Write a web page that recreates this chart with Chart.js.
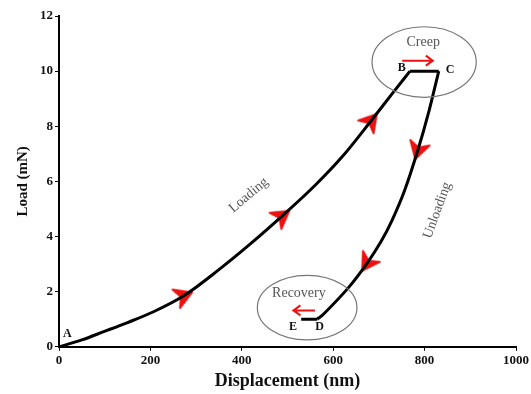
<!DOCTYPE html>
<html lang="en">
<head>
<meta charset="UTF-8">
<title>Load - Displacement</title>
<script src="https://cdn.jsdelivr.net/npm/chart.js"></script>
<style>
  html, body { margin: 0; padding: 0; background: #fff; }
  #wrap { width: 531px; height: 394px; }
</style>
</head>
<body>
<div id="wrap"><canvas id="chart" width="531" height="394"></canvas></div>
<script>
// curve data (nm, mN)
const loadingX   = [0, 50, 98, 150, 208, 273, 350, 420, 488, 560, 620, 683, 730, 768];
const loadingY   = [0, 0.25, 0.55, 0.88, 1.28, 1.85, 2.8, 3.75, 4.74, 5.85, 6.9, 8.2, 9.2, 10];
const creepX     = [768, 831];
const creepY     = [10, 10];
const unloadingX = [831, 810, 785, 756, 728, 705, 674, 632, 578, 565];
const unloadingY = [10, 8.58, 7.12, 5.66, 4.56, 3.83, 3.03, 2.12, 1.17, 1.0];
const recoveryX  = [565, 530];
const recoveryY  = [1.0, 1.0];

// direction arrows on the curve
const arrowX     = [273, 488, 683, 785, 674];
const arrowY     = [1.85, 4.74, 8.2, 7.12, 3.03];
const arrowAngle = [-22, -36, -50, 106, 123];

const xTicks = [0, 200, 400, 600, 800, 1000];
const yTicks = [0, 2, 4, 6, 8, 10, 12];

// annotations
const pointLabels = [
  { text: 'A', x: 18, y: 0.45 },
  { text: 'B', x: 750, y: 10.1 },
  { text: 'C', x: 856, y: 10.05 },
  { text: 'E', x: 512, y: 0.72 },
  { text: 'D', x: 570, y: 0.72 }
];
const phaseLabels = [
  { text: 'Creep', x: 797, y: 11.05, rot: 0 },
  { text: 'Recovery', x: 525, y: 1.95, rot: 0 },
  { text: 'Loading', x: 415, y: 5.5, rot: -40 },
  { text: 'Unloading', x: 828, y: 4.95, rot: -70 }
];
const ellipses = [
  { x: 799, y: 10.33, rx: 114, ry: 1.28 },
  { x: 543, y: 1.42, rx: 109, ry: 1.17 }
];
const redArrows = [
  { x1: 751, x2: 818, y: 10.38 },
  { x1: 560, x2: 513, y: 1.32 }
];

const toPts = (xs, ys) => xs.map((x, i) => ({ x: x, y: ys[i] }));

// red chevron used as point style
function makeChevron() {
  const c = document.createElement('canvas');
  c.width = 22; c.height = 22;
  const g = c.getContext('2d');
  g.fillStyle = '#ee1111';
  g.beginPath();
  g.moveTo(20, 11);
  g.lineTo(3, 1);
  g.lineTo(8, 11);
  g.lineTo(3, 21);
  g.closePath();
  g.fill();
  g.lineJoin = 'round';
  g.strokeStyle = '#ee1111';
  g.lineWidth = 2;
  g.stroke();
  return c;
}
const chevron = makeChevron();

const annotate = {
  id: 'annotate',
  afterDatasetsDraw(chart) {
    const ctx = chart.ctx;
    const xs = chart.scales.x, ys = chart.scales.y;
    ctx.save();
    // ellipses
    ctx.strokeStyle = '#777';
    ctx.lineWidth = 1.2;
    ellipses.forEach(e => {
      const cx = xs.getPixelForValue(e.x), cy = ys.getPixelForValue(e.y);
      const rx = xs.getPixelForValue(e.x + e.rx) - cx;
      const ry = cy - ys.getPixelForValue(e.y + e.ry);
      ctx.beginPath();
      ctx.ellipse(cx, cy, rx, ry, 0, 0, Math.PI * 2);
      ctx.stroke();
    });
    // red arrows
    ctx.strokeStyle = '#ee1111';
    ctx.lineWidth = 2;
    redArrows.forEach(a => {
      const x1 = xs.getPixelForValue(a.x1), x2 = xs.getPixelForValue(a.x2);
      const y = ys.getPixelForValue(a.y);
      const d = x2 > x1 ? 1 : -1;
      ctx.beginPath();
      ctx.moveTo(x1, y);
      ctx.lineTo(x2, y);
      ctx.moveTo(x2 - d * 7, y - 5);
      ctx.lineTo(x2, y);
      ctx.lineTo(x2 - d * 7, y + 5);
      ctx.stroke();
    });
    // phase labels
    ctx.fillStyle = '#555';
    ctx.font = '14px "Liberation Serif", serif';
    ctx.textAlign = 'center';
    ctx.textBaseline = 'middle';
    phaseLabels.forEach(l => {
      ctx.save();
      ctx.translate(xs.getPixelForValue(l.x), ys.getPixelForValue(l.y));
      ctx.rotate(l.rot * Math.PI / 180);
      ctx.fillText(l.text, 0, 0);
      ctx.restore();
    });
    // point letters
    ctx.fillStyle = '#111';
    ctx.font = 'bold 12px "Liberation Serif", serif';
    pointLabels.forEach(l => {
      ctx.fillText(l.text, xs.getPixelForValue(l.x), ys.getPixelForValue(l.y));
    });
    ctx.restore();
  }
};

const curveStyle = { borderColor: '#000', borderWidth: 3, pointRadius: 0, showLine: true, fill: false };
const tickFont = { family: '"Liberation Serif", serif', size: 13, weight: 'bold' };

new Chart(document.getElementById('chart'), {
  type: 'scatter',
  data: {
    datasets: [
      Object.assign({ label: 'Loading', data: toPts(loadingX, loadingY), cubicInterpolationMode: 'monotone' }, curveStyle),
      Object.assign({ label: 'Creep', data: toPts(creepX, creepY), tension: 0 }, curveStyle),
      Object.assign({ label: 'Unloading', data: toPts(unloadingX, unloadingY), tension: 0.3 }, curveStyle),
      Object.assign({ label: 'Recovery', data: toPts(recoveryX, recoveryY), tension: 0 }, curveStyle),
      {
        label: 'Direction', data: toPts(arrowX, arrowY), showLine: false,
        pointStyle: chevron, pointRotation: arrowAngle, pointRadius: 11
      }
    ]
  },
  plugins: [annotate],
  options: {
    responsive: false,
    animation: false,
    layout: { padding: { top: 16, right: 11, left: 10, bottom: 0 } },
    plugins: { legend: { display: false }, tooltip: { enabled: false } },
    scales: {
      x: {
        type: 'linear', min: 0, max: 1000,
        afterBuildTicks: s => { s.ticks = xTicks.map(v => ({ value: v })); },
        grid: { drawOnChartArea: false, drawTicks: true, tickLength: 4, color: '#000' },
        border: { color: '#000', width: 2 },
        ticks: { color: '#111', font: tickFont, padding: 2, maxRotation: 0, callback: v => String(v) },
        title: { display: true, text: 'Displacement (nm)', color: '#111', font: { family: '"Liberation Serif", serif', size: 18, weight: 'bold' }, padding: { top: 0, bottom: 2 } }
      },
      y: {
        type: 'linear', min: 0, max: 12,
        afterBuildTicks: s => { s.ticks = yTicks.map(v => ({ value: v })); },
        grid: { drawOnChartArea: false, drawTicks: true, tickLength: 4, color: '#000' },
        border: { color: '#000', width: 2 },
        ticks: { color: '#111', font: tickFont, padding: 2, callback: v => String(v) },
        title: { display: true, text: 'Load (mN)', color: '#111', font: { family: '"Liberation Serif", serif', size: 15, weight: 'bold' }, padding: { bottom: 6 } }
      }
    }
  }
});
</script>
</body>
</html>
